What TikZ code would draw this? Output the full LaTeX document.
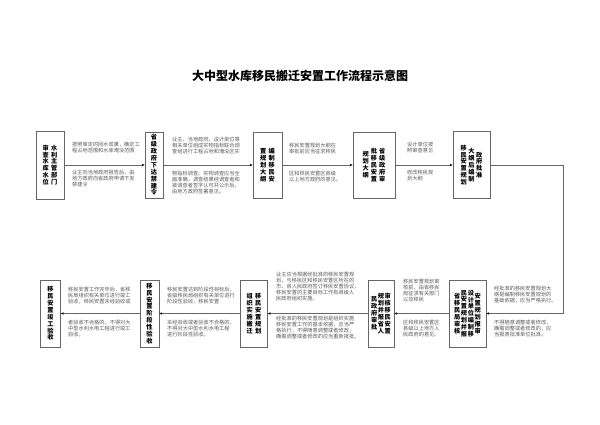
\documentclass[tikz,border=0pt]{standalone}
\usepackage{fontspec}
\setmainfont{Noto Sans CJK SC}
\usetikzlibrary{arrows.meta}

% one column of a step box, characters stacked from top to bottom
\ExplSyntaxOn
\NewDocumentCommand{\vc}{m}
  { \ensuremath{ \vcenter { \tl_map_inline:nn {#1} { \hbox_to_wd:nn {1.1em} { \hss ##1 \hss } } } } }
\ExplSyntaxOff

\tikzset{
  stepbox/.style={draw=black!60, line width=0.7pt, align=center,
    inner sep=0pt, font=\fontsize{6.2}{6.9}\selectfont\bfseries},
  flow/.style={draw=black!60, line width=0.6pt, -{Stealth[length=3pt,width=2.4pt,black]}},
  note/.style={anchor=north west, inner sep=0pt, align=left, text=black!65,
    font=\fontsize{5.2}{6.1}\selectfont},
}

\begin{document}
\begin{tikzpicture}[x=1pt,y=-1pt]
  \useasboundingbox (0,0) rectangle (600,424);

  % Title
  \node[font=\fontsize{12}{12}\selectfont\bfseries] (title) at (300,76) {大中型水库移民搬迁安置工作流程示意图};

  % Upper row of steps (columns written left to right, read right to left)
  \node[stepbox, minimum height=68pt, minimum width=28pt] (b1) at (50,165) {\vc{审查水库水位}\hspace{1.5pt}\vc{水利主管部门}};
  \node[stepbox, minimum height=66pt, minimum width=18pt] (b2) at (154,165) {\vc{省级政府下达禁建令}};
  \node[stepbox, minimum height=66pt, minimum width=29pt] (b3) at (267.5,165) {\vc{置规划大纲}\hspace{1.5pt}\vc{编制移民安}};
  \node[stepbox, minimum height=66pt, minimum width=42pt] (b4) at (374,165) {\vc{规划大纲}\hspace{1.5pt}\vc{批移民安置}\hspace{1.5pt}\vc{省级政府审}};
  \node[stepbox, minimum height=67pt, minimum width=37pt] (b5) at (471.5,165) {\vc{移民安置规划}\hspace{1pt}\vc{大纲后编制}\hspace{1pt}\vc{政府批准}};

  % Lower row of steps
  \node[stepbox, minimum height=67pt, minimum width=37pt] (b6) at (467.5,313.5) {\vc{省移民局审核}\vc{民安置规划并报}\vc{设计单位编制移}\vc{安置规划报审}};
  \node[stepbox, minimum height=67pt, minimum width=26pt] (b7) at (381,313.5) {\vc{民政府审批}\vc{规划并报省人}\vc{审核移民安置}};
  \node[stepbox, minimum height=67pt, minimum width=27pt] (b8) at (254,313.5) {\vc{组织实施搬迁}\hspace{1.5pt}\vc{移民安置规划}};
  \node[stepbox, minimum height=67pt, minimum width=19pt] (b9) at (149.5,313.5) {\vc{移民安置阶段性验收}};
  \node[stepbox, minimum height=67pt, minimum width=20pt] (b10) at (50.5,313.5) {\vc{移民安置竣工验收}};

  % Turn from the upper row to the lower row
  \coordinate (t1) at (563,165);
  \coordinate (t2) at (563,313.5);

  % Connectors
  \foreach \a/\b in {b1/b2, b2/b3, b3/b4, b4/b5, b6/b7, b7/b8, b8/b9, b9/b10} {
    \draw[flow] (\a) -- (\b);
  }
  \draw[flow] (b5) -- (t1) -- (t2) -- (b6);

  % Notes, upper row
  \node[note] (n12a) at (72,141.5) {按照审定的回水成果，确定工\\程占地范围和水库淹没范围};
  \node[note] (n12b) at (72,169.5) {业主向当地政府报告后，由\\地方政府向省政府申请下发\\禁建令};
  \node[note] (n23a) at (172,136.5) {业主、当地政府、设计单位等\\相关单位组成实物指标联合调\\查组进行工程占地和淹没区实};
  \node[note] (n23b) at (172,170.5) {物指标调查。实物调查应当全\\面准确，调查结果经调查者和\\被调查者签字认可并公示后，\\由地方政府签署意见。};
  \node[note] (n34a) at (289,142.5) {移民安置规划大纲在\\审批前应当征求移民};
  \node[note] (n34b) at (289,170.5) {区和移民安置区县级\\以上地方政府的意见。};
  \node[note] (n45a) at (407,141.5) {设计单位按\\照审查意见};
  \node[note] (n45b) at (407,169.5) {修改移民规\\划大纲};

  % Notes, lower row
  \node[note] (n6a) at (494,285.5) {经批准的移民安置规划大\\纲是编制移民安置规划的\\基础依据，应当严格执行。};
  \node[note] (n6b) at (494,319.5) {不得随意调整或者修改，\\确需调整或者修改的，应\\当报原批准单位批准。};
  \node[note] (n67a) at (403,278.5) {移民安置规划审\\核前，由省移民\\局征求有关部门\\以及移民};
  \node[note] (n67b) at (403,319.5) {区和移民安置区\\县级以上地方人\\民政府的意见。};
  \node[note] (n78a) at (276,271.5) {业主应当根据经批准的移民安置规\\划，与移民区和移民安置区所在的\\市、县人民政府签订移民安置协议，\\移民安置的主要目标工作有县级人\\民政府组织实施。};
  \node[note] (n78b) at (276,315.5) {经批准的移民安置规划是组织实施\\移民安置工作的基本依据，应当严\\格执行，不得随意调整或者修改，\\确需调整或者修改的应当重新报批。};
  \node[note] (n89a) at (167,286.5) {移民安置达到阶段性目标后，\\省级移民局组织有关单位进行\\阶段性验收，移民安置};
  \node[note] (n89b) at (167,319.5) {未经验收或者验收不合格的，\\不得对大中型水利水电工程\\进行阶段性验收。};
  \node[note] (n910a) at (68,286.5) {移民安置工作完毕后，省移\\民局组织有关单位进行竣工\\验收，移民安置未经验收或};
  \node[note] (n910b) at (68,319.5) {者验收不合格的，不得对大\\中型水利水电工程进行竣工\\验收。};
\end{tikzpicture}
\end{document}
